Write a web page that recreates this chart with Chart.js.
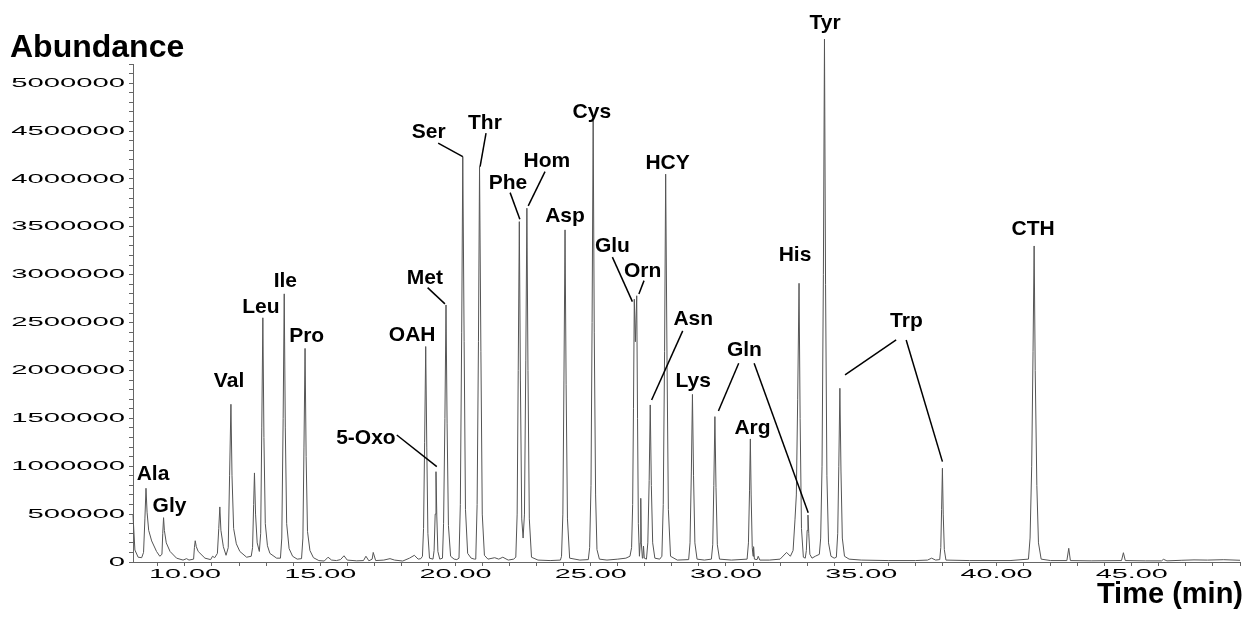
<!DOCTYPE html>
<html>
<head>
<meta charset="utf-8">
<script src="https://cdn.jsdelivr.net/npm/chart.js@4/dist/chart.umd.min.js"></script>
<style>
  html, body { margin: 0; padding: 0; background: #fff; }
  #wrap { width: 1253px; height: 618px; }
</style>
</head>
<body>
<div id="wrap"><canvas id="chrom" width="1253" height="618"></canvas></div>
<script>
// retention time (min) and abundance, one line per peak
const times = [
  8.08, 8.15, 8.27, 8.40,
  8.47, 8.52, 8.56, 8.60, 8.66, 8.77, 8.95, 9.07,
  9.15, 9.18, 9.21, 9.24, 9.31, 9.45, 9.69, 9.93,
  10.06, 10.15,
  10.32, 10.35, 10.38, 10.42, 10.49, 10.74, 10.95,
  11.02, 11.10,
  11.20, 11.25, 11.29, 11.33, 11.42, 11.52,
  11.60, 11.65, 11.70, 11.74, 11.80, 11.90, 12.03, 12.28,
  12.45, 12.50, 12.54, 12.57, 12.61, 12.67, 12.75,
  12.80, 12.84, 12.88, 12.92, 12.97, 13.05, 13.14, 13.39,
  13.53, 13.58, 13.63, 13.67, 13.71, 13.76, 13.85, 13.98, 14.15,
  14.31, 14.36, 14.40, 14.44, 14.48, 14.53, 14.62, 14.75, 14.95,
  15.15, 15.29, 15.42, 15.60, 15.75, 15.88, 16.00, 16.35, 16.60, 16.69, 16.80,
  16.92, 16.96, 17.05, 17.35, 17.58, 17.75, 18.05, 18.30, 18.48, 18.62, 18.72,
  18.78, 18.82, 18.86, 18.90, 18.94, 18.98, 19.04,
  19.17, 19.21, 19.25, 19.28, 19.31, 19.35, 19.42,
  19.52, 19.56, 19.61, 19.65, 19.69, 19.74, 19.82, 19.95, 20.05,
  20.13, 20.18, 20.23, 20.27, 20.32, 20.37, 20.45, 20.58, 20.70,
  20.75, 20.80, 20.85, 20.89, 20.94, 20.99, 21.07, 21.20, 21.45, 21.60, 21.75, 21.95, 22.15,
  22.23, 22.28, 22.32, 22.36, 22.40, 22.45, 22.50, 22.55, 22.60, 22.64, 22.68, 22.73, 22.81, 23.05, 23.50, 23.88,
  23.92, 23.97, 24.01, 24.05, 24.09, 24.14, 24.22, 24.60,
  24.91, 24.96, 25.01, 25.05, 25.09, 25.13, 25.18, 25.23, 25.32, 25.60, 26.00, 26.30, 26.45,
  26.51, 26.55, 26.58, 26.61, 26.65, 26.70, 26.73, 26.76, 26.80,
  26.83, 26.85, 26.87, 26.91, 26.93, 26.95, 26.98,
  27.06, 27.11, 27.16, 27.20, 27.24, 27.29, 27.37, 27.55,
  27.63, 27.68, 27.73, 27.77, 27.82, 27.87, 27.95, 28.20,
  28.62, 28.67, 28.72, 28.76, 28.80, 28.85, 28.93, 29.20,
  29.46, 29.51, 29.55, 29.59, 29.63, 29.68, 29.76, 30.20,
  30.78, 30.83, 30.87, 30.90, 30.93, 30.97, 31.00, 31.02, 31.05, 31.15, 31.19, 31.25,
  31.60, 32.00, 32.24, 32.38, 32.48,
  32.55, 32.60, 32.65, 32.70, 32.74, 32.79, 32.86,
  32.93, 32.97, 33.00, 33.03, 33.06, 33.10, 33.18, 33.30,
  33.45, 33.50, 33.55, 33.60, 33.64, 33.68, 33.73, 33.79, 33.88, 34.00,
  34.08, 34.13, 34.17, 34.21, 34.25, 34.30, 34.38, 34.55, 35.00, 36.00, 37.00, 37.45, 37.60, 37.75,
  37.90, 37.94, 37.97, 38.00, 38.03, 38.07, 38.13, 39.00, 40.50,
  41.18, 41.24, 41.30, 41.35, 41.39, 41.43, 41.49, 41.55, 41.65, 42.00,
  42.60, 42.67, 42.73, 43.50, 44.62, 44.69, 44.76, 45.50, 46.10, 46.17, 46.30, 46.85, 47.30, 47.80, 48.40, 49.00
];
const abundance = [
  490000, 125000, 50000, 45000,
  100000, 450000, 770000, 520000, 330000, 220000, 110000, 60000,
  80000, 300000, 463000, 330000, 200000, 110000, 40000, 20000,
  35000, 20000,
  30000, 150000, 222000, 160000, 110000, 40000, 25000,
  60000, 45000,
  90000, 350000, 575000, 330000, 160000, 70000,
  150000, 900000, 1647000, 900000, 350000, 190000, 110000, 50000,
  60000, 150000, 600000, 930000, 500000, 200000, 110000,
  300000, 1400000, 2550000, 1300000, 400000, 170000, 90000, 40000,
  40000, 250000, 1500000, 2800000, 1400000, 400000, 140000, 60000, 30000,
  35000, 250000, 1200000, 2230000, 1100000, 320000, 120000, 45000, 15000,
  10000, 50000, 20000, 15000, 25000, 65000, 20000, 12000, 15000, 60000, 12000,
  30000, 100000, 15000, 20000, 35000, 20000, 10000, 40000, 70000, 30000, 35000,
  60000, 350000, 1250000, 2250000, 1200000, 300000, 40000,
  30000, 120000, 500000, 943000, 480000, 110000, 30000,
  40000, 400000, 1500000, 2684000, 1450000, 380000, 60000, 30000, 25000,
  40000, 600000, 2400000, 4233000, 2300000, 550000, 90000, 40000, 30000,
  30000, 600000, 2300000, 4129000, 2200000, 500000, 70000, 30000, 45000, 30000, 50000, 20000, 30000,
  50000, 500000, 2000000, 3554000, 1900000, 450000, 250000, 500000, 2100000, 3694000, 2000000, 450000, 50000, 20000, 15000, 20000,
  60000, 500000, 1900000, 3468000, 1850000, 450000, 40000, 20000,
  25000, 150000, 800000, 2500000, 4609000, 2400000, 700000, 130000, 30000, 20000, 30000, 40000, 60000,
  150000, 600000, 1600000, 2744000, 2300000, 2780000, 1500000, 400000, 60000,
  200000, 665000, 200000, 40000, 60000, 167000, 40000,
  30000, 200000, 850000, 1640000, 800000, 200000, 40000, 30000,
  60000, 600000, 2200000, 4050000, 2100000, 550000, 60000, 20000,
  25000, 200000, 950000, 1750000, 900000, 200000, 30000, 20000,
  30000, 180000, 800000, 1518000, 780000, 180000, 30000, 20000,
  30000, 200000, 750000, 1285000, 700000, 150000, 60000, 160000, 30000, 25000, 60000, 20000,
  20000, 30000, 100000, 60000, 120000,
  440000, 700000, 1700000, 2910000, 1500000, 350000, 50000,
  40000, 120000, 330000, 490000, 300000, 80000, 40000, 60000,
  80000, 250000, 1000000, 3000000, 5460000, 2900000, 900000, 200000, 60000, 40000,
  50000, 300000, 1000000, 1814000, 950000, 250000, 60000, 30000, 20000, 15000, 15000, 20000, 40000, 20000,
  25000, 150000, 550000, 979000, 500000, 130000, 20000, 15000, 15000,
  30000, 250000, 1000000, 2200000, 3300000, 2000000, 800000, 200000, 30000, 15000,
  15000, 143000, 15000, 12000, 15000, 97000, 15000, 12000, 12000, 28000, 12000, 18000, 22000, 20000, 24000, 18000
];

const xTickLabels = [10, 15, 20, 25, 30, 35, 40, 45];
const yTickLabels = [0, 500000, 1000000, 1500000, 2000000, 2500000, 3000000, 3500000, 4000000, 4500000, 5000000];

// peak names: [text, time, abundance] of the label (centre, baseline)
const peakLabels = [
  ['Ala', 8.82, 856000], ['Gly', 9.43, 526000], ['Val', 11.63, 1828000],
  ['Leu', 12.81, 2605000], ['Ile', 13.71, 2872000], ['Pro', 14.50, 2292000],
  ['5-Oxo', 16.69, 1229000], ['OAH', 18.40, 2308000], ['Met', 18.87, 2901000],
  ['Ser', 19.01, 4426000], ['Thr', 21.09, 4520000], ['Phe', 21.94, 3893000],
  ['Hom', 23.38, 4126000], ['Asp', 24.05, 3545000], ['Cys', 25.04, 4634000],
  ['Glu', 25.80, 3232000], ['Orn', 26.92, 2981000], ['HCY', 27.84, 4102000],
  ['Asn', 28.79, 2475000], ['Lys', 28.79, 1828000], ['Gln', 30.68, 2152000],
  ['Arg', 30.98, 1334000], ['His', 32.55, 3138000], ['Tyr', 33.66, 5564000],
  ['Trp', 36.67, 2455000], ['CTH', 41.35, 3415000]
];
// leader lines: [t1, a1, t2, a2]
const leaders = [
  [17.83, 1326000, 19.31, 995000],
  [18.97, 2865000, 19.61, 2695000],
  [19.36, 4373000, 20.27, 4233000],
  [21.13, 4478000, 20.91, 4129000],
  [23.31, 4077000, 22.69, 3718000],
  [22.02, 3857000, 22.38, 3580000],
  [25.80, 3183000, 26.54, 2719000],
  [26.97, 2938000, 26.78, 2799000],
  [28.40, 2413000, 27.25, 1692000],
  [30.47, 2075000, 29.72, 1577000],
  [31.04, 2075000, 33.04, 515000],
  [36.29, 2319000, 34.40, 1953000],
  [36.66, 2319000, 38.00, 1048000]
];

const minorX = [];
for (let t = 9; t <= 49; t++) minorX.push(t);
const minorY = [];
for (let v = 0; v <= 5200000; v += 100000) minorY.push(v);

const labelPlugin = {
  id: 'labels',
  afterDraw(chart) {
    const ctx = chart.ctx;
    const xs = chart.scales.x, ys = chart.scales.y;
    ctx.save();
    ctx.fillStyle = '#000';

    // stretched tick text, like the instrument software
    ctx.font = '13px "Liberation Sans", Arial, sans-serif';
    ctx.textAlign = 'right';
    ctx.textBaseline = 'middle';
    yTickLabels.forEach(v => {
      ctx.save();
      ctx.translate(125, ys.getPixelForValue(v));
      ctx.scale(2.25, 1);
      ctx.fillText(String(v), 0, 0);
      ctx.restore();
    });
    ctx.font = '12px "Liberation Sans", Arial, sans-serif';
    ctx.textAlign = 'center';
    xTickLabels.forEach(v => {
      ctx.save();
      ctx.translate(xs.getPixelForValue(v), 575);
      ctx.scale(2.4, 1);
      ctx.fillText(v.toFixed(2), 0, 0);
      ctx.restore();
    });

    // axis titles
    ctx.textBaseline = 'alphabetic';
    ctx.font = 'bold 32px "Liberation Sans", Arial, sans-serif';
    ctx.textAlign = 'left';
    ctx.fillText('Abundance', 10, 57);
    ctx.font = 'bold 29px "Liberation Sans", Arial, sans-serif';
    ctx.textAlign = 'right';
    ctx.fillText('Time (min)', 1243, 603);

    // peak names
    ctx.font = 'bold 21px "Liberation Sans", Arial, sans-serif';
    ctx.textAlign = 'center';
    peakLabels.forEach(([txt, t, a]) => {
      ctx.fillText(txt, xs.getPixelForValue(t), ys.getPixelForValue(a));
    });
    ctx.strokeStyle = '#000';
    ctx.lineWidth = 1.5;
    leaders.forEach(([t1, a1, t2, a2]) => {
      ctx.beginPath();
      ctx.moveTo(xs.getPixelForValue(t1), ys.getPixelForValue(a1));
      ctx.lineTo(xs.getPixelForValue(t2), ys.getPixelForValue(a2));
      ctx.stroke();
    });
    ctx.restore();
  }
};

const chart = new Chart(document.getElementById('chrom').getContext('2d'), {
  type: 'line',
  data: {
    datasets: [{
      data: times.map((t, i) => ({ x: t, y: abundance[i] })),
      borderColor: '#555',
      borderWidth: 1,
      pointRadius: 0,
      tension: 0,
      fill: false,
      clip: false
    }]
  },
  options: {
    responsive: false,
    animation: false,
    devicePixelRatio: 1,
    layout: { padding: { top: 64, right: 13, left: 0, bottom: 0 } },
    plugins: { legend: { display: false }, tooltip: { enabled: false } },
    scales: {
      x: {
        type: 'linear',
        min: 8.08,
        max: 49,
        border: { color: '#666', width: 1 },
        grid: { drawOnChartArea: false, tickLength: 4, color: '#666' },
        ticks: { display: false },
        afterBuildTicks: s => { s.ticks = minorX.map(v => ({ value: v })); },
        afterFit: s => { s.height = 56; }
      },
      y: {
        type: 'linear',
        min: 0,
        max: 5200000,
        border: { color: '#666', width: 1 },
        grid: { drawOnChartArea: false, tickLength: 4, color: '#666' },
        ticks: { display: false },
        afterBuildTicks: s => { s.ticks = minorY.map(v => ({ value: v })); },
        afterFit: s => { s.width = 133; }
      }
    }
  },
  plugins: [labelPlugin]
});
</script>
</body>
</html>
